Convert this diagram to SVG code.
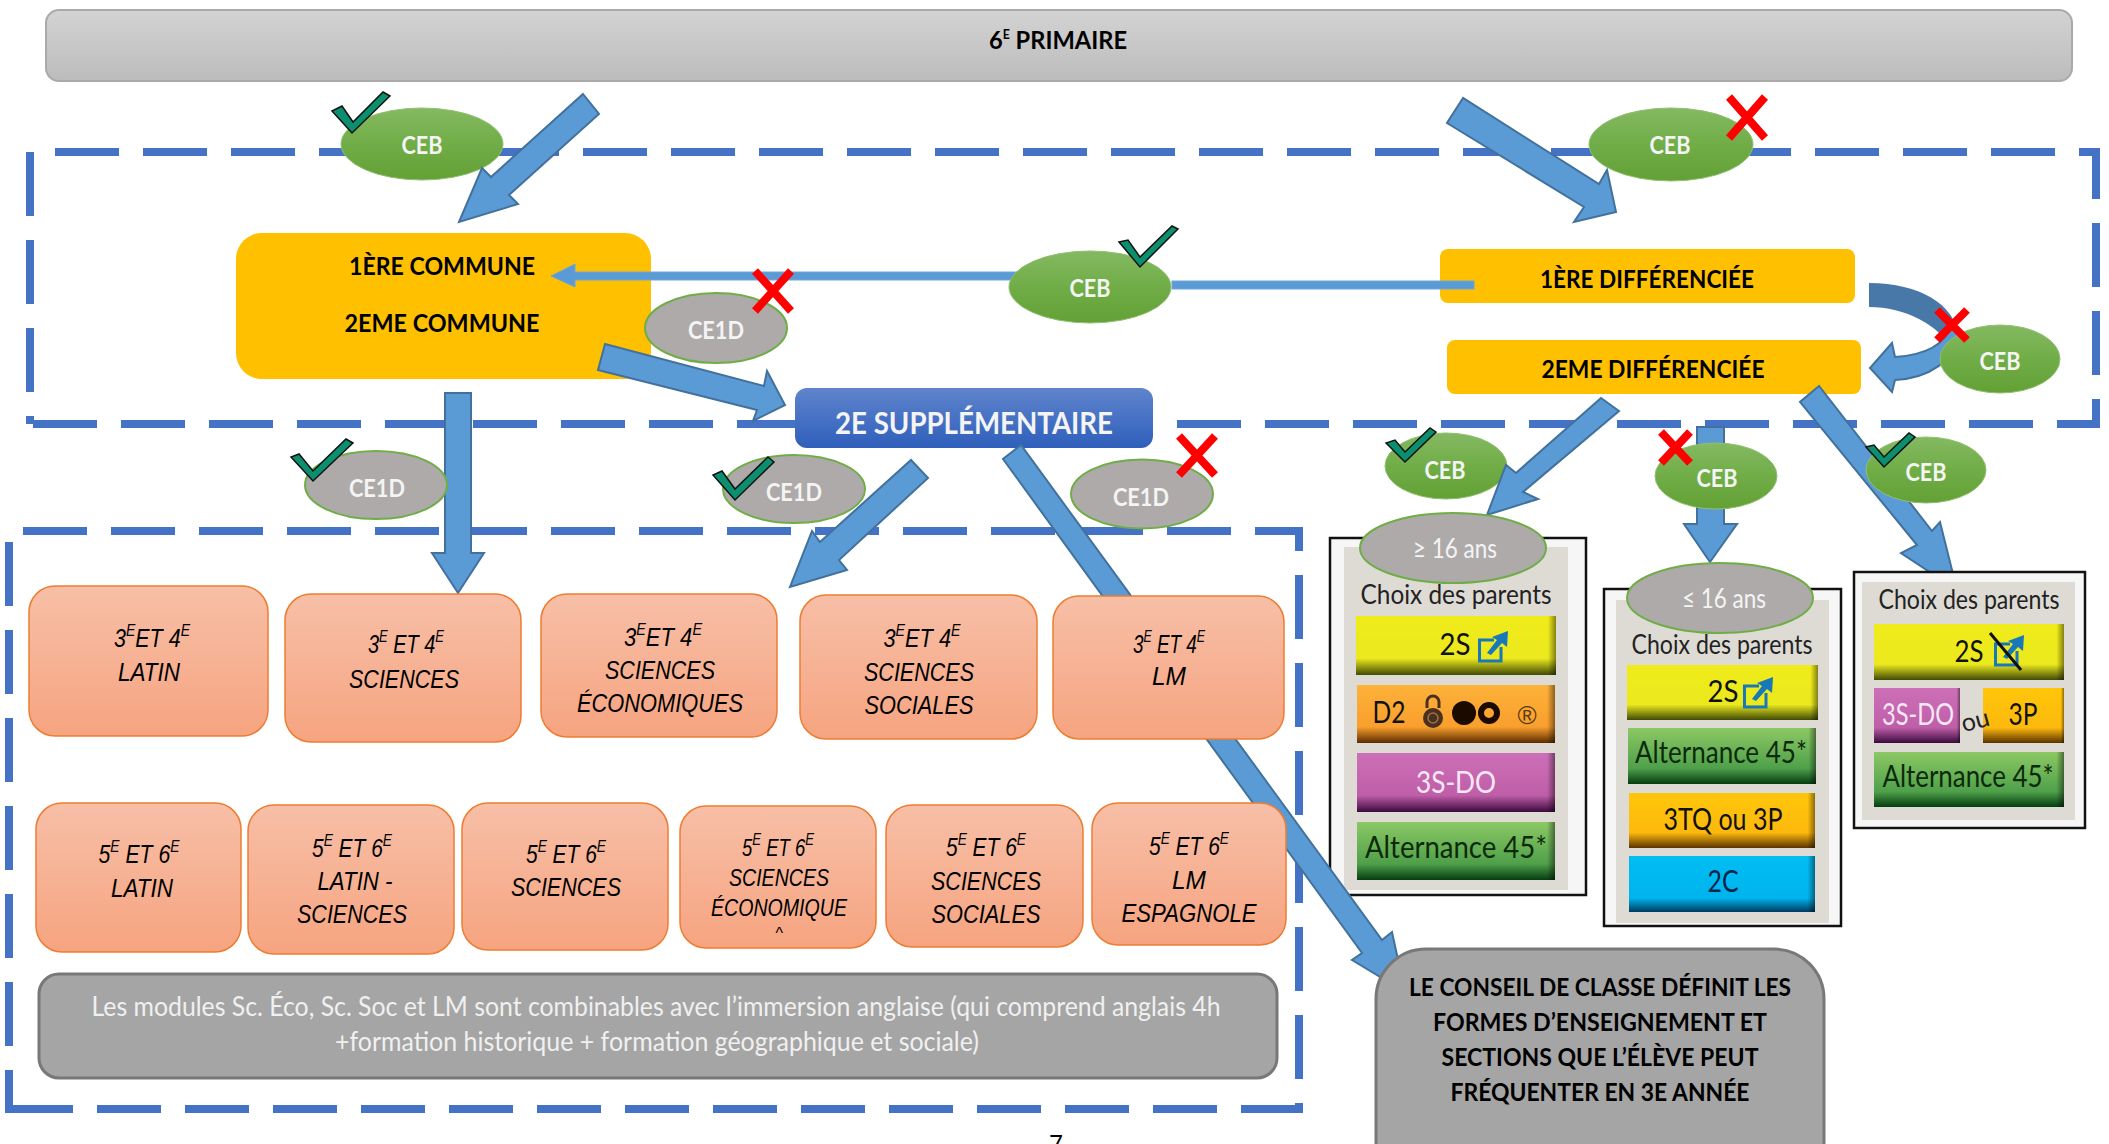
<svg xmlns="http://www.w3.org/2000/svg" width="2109" height="1144" viewBox="0 0 2109 1144">
<style>
text{font-family:Lato,"Liberation Sans",sans-serif;text-anchor:middle}
.b{font-weight:700;fill:#000}
.w{font-weight:700;fill:#f4f4f4;font-size:24px}
.cap{font-size:25px}
.i{font-family:"Liberation Sans",Arial,sans-serif;font-style:italic;font-size:26px;fill:#000}
.s{font-size:17px}
.hs{font-size:13px}
.dash{fill:none;stroke:#4472C4;stroke-width:8;stroke-dasharray:64 24}
.arrow{fill:#5B9BD5;stroke:#41719C;stroke-width:2}
.line{fill:#5B9BD5;stroke:#6ea6da;stroke-width:1}
.eg{fill:url(#green);stroke:#8fc06f;stroke-width:1}
.ea{fill:#AEAAAA;stroke:#70AD47;stroke-width:2}
.ck{fill:#0b8f6f;stroke:#111;stroke-width:1.5}
.x{fill:none;stroke:#f00;stroke-width:8}
.y{fill:#FFC000}
.o{fill:url(#peach);stroke:#ED7D31;stroke-width:1.5}
.n{fill:#A5A5A5;stroke:#787878;stroke-width:3}
.pf{fill:#f6f6f6;stroke:#111;stroke-width:2.5}
.pi{fill:#DEDBD5}
.ch{font-size:27px;fill:#222}
.t{font-size:30px;fill:#111}
.ge{fill:url(#edge)}
</style>
<defs>
<linearGradient id="grey" x1="0" y1="0" x2="0" y2="1"><stop offset="0" stop-color="#d3d3d3"/><stop offset="1" stop-color="#bcbcbc"/></linearGradient>
<linearGradient id="green" x1="0" y1="0" x2="0" y2="1"><stop offset="0" stop-color="#85b962"/><stop offset=".5" stop-color="#70AD47"/><stop offset="1" stop-color="#63a035"/></linearGradient>
<linearGradient id="peach" x1="0" y1="0" x2="0" y2="1"><stop offset="0" stop-color="#f7bfa7"/><stop offset="1" stop-color="#f6a480"/></linearGradient>
<linearGradient id="blue" x1="0" y1="0" x2="0" y2="1"><stop offset="0" stop-color="#5f84cd"/><stop offset="1" stop-color="#2f5fbb"/></linearGradient>
<linearGradient id="gy" x1="0" y1="0" x2="0" y2="1"><stop offset="0" stop-color="#f0ec1a"/><stop offset=".72" stop-color="#ebe81e"/><stop offset="1" stop-color="#3f4a05"/></linearGradient>
<linearGradient id="go" x1="0" y1="0" x2="0" y2="1"><stop offset="0" stop-color="#fdb23a"/><stop offset=".72" stop-color="#f99f2d"/><stop offset="1" stop-color="#5c2c00"/></linearGradient>
<linearGradient id="gm" x1="0" y1="0" x2="0" y2="1"><stop offset="0" stop-color="#cd70b8"/><stop offset=".72" stop-color="#bf5ea8"/><stop offset="1" stop-color="#3a0a3e"/></linearGradient>
<linearGradient id="gg" x1="0" y1="0" x2="0" y2="1"><stop offset="0" stop-color="#8cc864"/><stop offset=".72" stop-color="#4fa04a"/><stop offset="1" stop-color="#053d10"/></linearGradient>
<linearGradient id="gd" x1="0" y1="0" x2="0" y2="1"><stop offset="0" stop-color="#ffc60a"/><stop offset=".72" stop-color="#fdb90d"/><stop offset="1" stop-color="#5a3300"/></linearGradient>
<linearGradient id="gc" x1="0" y1="0" x2="0" y2="1"><stop offset="0" stop-color="#00bdf2"/><stop offset=".75" stop-color="#00b4ee"/><stop offset="1" stop-color="#003a60"/></linearGradient>
<linearGradient id="edge" x1="0" y1="0" x2="1" y2="0"><stop offset=".96" stop-color="#000" stop-opacity="0"/><stop offset="1" stop-color="#000" stop-opacity=".45"/></linearGradient>
<g id="ext"><path d="M16 9H1.5V30H23V16" fill="none" stroke="#1878b8" stroke-width="3"/><path d="M9 22L19 9L14 6L30 0L29 16L24 12L13 24Z" fill="#1878b8"/></g>
</defs>
<rect width="2109" height="1144" fill="#fff"/>

<g id="dashed-frames">
<path class="dash" d="M55 152H2096V424H30"/>
<path class="dash" d="M30 424V148" stroke-dashoffset="56"/>
<path class="dash" d="M23 531H1299V1109H9"/>
<path class="dash" d="M9 1113V541" stroke-dashoffset="21"/>
</g>

<g id="n-6e-primaire">
<rect x="46" y="10" width="2026" height="71" rx="13" fill="url(#grey)" stroke="#aaa" stroke-width="2"/>
<text class="b" x="1058" y="49" font-size="25" lengthAdjust="spacingAndGlyphs" textLength="138">6<tspan class="hs" dy="-10">E</tspan><tspan dy="10"> PRIMAIRE</tspan></text>
</g>
<g id="n-commune">
<rect class="y" x="236" y="233" width="415" height="146" rx="26"/>
<text class="b cap" x="442" y="275" lengthAdjust="spacingAndGlyphs" textLength="186">1ÈRE COMMUNE</text>
<text class="b cap" x="442" y="332" lengthAdjust="spacingAndGlyphs" textLength="195">2EME COMMUNE</text>
</g>
<g id="n-1ere-diff">
<rect class="y" x="1440" y="249" width="415" height="54" rx="8"/>
<text class="b cap" x="1647" y="288" lengthAdjust="spacingAndGlyphs" textLength="214">1ÈRE DIFFÉRENCIÉE</text>
</g>
<g id="n-2eme-diff">
<rect class="y" x="1447" y="340" width="414" height="54" rx="8"/>
<text class="b cap" x="1653" y="378" lengthAdjust="spacingAndGlyphs" textLength="223">2EME DIFFÉRENCIÉE</text>
</g>
<g id="n-2e-supp">
<rect x="795" y="388" width="358" height="60" rx="12" fill="url(#blue)"/>
<text x="974" y="434" font-size="31" font-weight="700" fill="#f4f4f4" lengthAdjust="spacingAndGlyphs" textLength="278">2E SUPPLÉMENTAIRE</text>
</g>

<g id="n-panel-16plus">
<rect class="pf" x="1330" y="538" width="256" height="357"/>
<rect class="pi" x="1344" y="547" width="224" height="343"/>
<text class="ch" x="1456" y="604" lengthAdjust="spacingAndGlyphs" textLength="191">Choix des parents</text>
<rect x="1356" y="616" width="200" height="59" fill="url(#gy)"/><rect class="ge" x="1356" y="616" width="200" height="59"/>
<text class="t" x="1455" y="655" lengthAdjust="spacingAndGlyphs" textLength="31">2S</text><use href="#ext" x="1478" y="631"/>
<rect x="1357" y="685" width="198" height="58" fill="url(#go)"/><rect class="ge" x="1357" y="685" width="198" height="58"/>
<text class="t" x="1389" y="723" lengthAdjust="spacingAndGlyphs" textLength="33">D2</text>
<path d="M1427 708v-6a6 6 0 0 1 12 0v6" fill="none" stroke="#4a3020" stroke-width="3"/><circle cx="1433" cy="718" r="10" fill="#4a3020"/><circle cx="1433" cy="718" r="5" fill="none" stroke="#a07040" stroke-width="1.5"/>
<circle cx="1464" cy="713" r="12" fill="#1a0a00"/><circle cx="1489" cy="713" r="8" fill="none" stroke="#1a0a00" stroke-width="6"/>
<text x="1527" y="724" font-size="26" fill="#5a3a10" style="font-family:'Liberation Sans',sans-serif">®</text>
<rect x="1357" y="753" width="198" height="59" fill="url(#gm)"/><rect class="ge" x="1357" y="753" width="198" height="59"/>
<text class="t" x="1456" y="793" lengthAdjust="spacingAndGlyphs" textLength="80" style="fill:#f8e8f6">3S-DO</text>
<rect x="1357" y="822" width="198" height="58" fill="url(#gg)"/><rect class="ge" x="1357" y="822" width="198" height="58"/>
<text class="t" x="1456" y="858" lengthAdjust="spacingAndGlyphs" textLength="182" style="fill:#0c2a0c">Alternance 45*</text>
</g>
<g id="n-panel-16minus">
<rect class="pf" x="1604" y="589" width="237" height="337"/>
<rect class="pi" x="1616" y="600" width="213" height="323"/>
<text class="ch" x="1722" y="654" lengthAdjust="spacingAndGlyphs" textLength="181">Choix des parents</text>
<rect x="1627" y="665" width="191" height="55" fill="url(#gy)"/><rect class="ge" x="1627" y="665" width="191" height="55"/>
<text class="t" x="1723" y="702" lengthAdjust="spacingAndGlyphs" textLength="31">2S</text><use href="#ext" x="1743" y="677"/>
<rect x="1628" y="728" width="188" height="56" fill="url(#gg)"/><rect class="ge" x="1628" y="728" width="188" height="56"/>
<text class="t" x="1721" y="763" lengthAdjust="spacingAndGlyphs" textLength="172" style="fill:#0c2a0c">Alternance 45*</text>
<rect x="1629" y="793" width="186" height="55" fill="url(#gd)"/><rect class="ge" x="1629" y="793" width="186" height="55"/>
<text class="t" x="1723" y="830" lengthAdjust="spacingAndGlyphs" textLength="119">3TQ ou 3P</text>
<rect x="1629" y="856" width="186" height="56" fill="url(#gc)"/><rect class="ge" x="1629" y="856" width="186" height="56"/>
<text class="t" x="1723" y="892" lengthAdjust="spacingAndGlyphs" textLength="31" style="fill:#05264a">2C</text>
</g>

<g id="n-ceb-1">
<ellipse class="eg" cx="422" cy="144" rx="81" ry="36"/>
<text class="w" x="422" y="154" lengthAdjust="spacingAndGlyphs" textLength="41">CEB</text>
<polygon class="ck" points="332,111 352,133 390,96 383,92 353,122 342,106"/>
</g>
<g id="n-ceb-2">
<ellipse class="eg" cx="1671" cy="144.5" rx="82" ry="36.5"/>
<text class="w" x="1670" y="154" lengthAdjust="spacingAndGlyphs" textLength="41">CEB</text>
<path class="x" d="M1729 97L1765 138M1765 97L1729 138"/>
</g>
<g id="n-ceb-low-1">
<ellipse class="eg" cx="1446" cy="466" rx="61" ry="33"/>
<text class="w" x="1445" y="479" lengthAdjust="spacingAndGlyphs" textLength="41">CEB</text>
<polygon class="ck" points="1386,443 1405,462 1436,432 1430,428 1405,452 1395,440"/>
</g>
<g id="n-ce1d-mid">
<ellipse class="ea" cx="794" cy="489" rx="71" ry="34"/>
<text class="w" x="794" y="501" lengthAdjust="spacingAndGlyphs" textLength="56">CE1D</text>
<polygon class="ck" points="713,475 735,500 774,462 768,457 735,489 722,471"/>
</g>

<g id="connectors">
<polygon class="arrow" points="583,94 599,114 509,195 518,204 459,222 482,168 491,177"/>
<polygon class="arrow" points="1463,98 1447,123 1584,207 1574,222 1616,212 1607,170 1599,184"/>
<polygon class="line" points="1018,272 575,272 575,264 551,276 575,287 575,280 1018,280"/>
<rect class="line" x="1172" y="281" width="302" height="8"/>
<polygon class="arrow" points="605,344 598,370 757,410 753,421 785,405 767,371 764,386"/>
<polygon class="arrow" points="445,393 471,393 471,553 484,553 458,593 432,553 445,553"/>
<polygon class="arrow" points="911,460 928,478 839,560 847,570 790,587 812,531 820,542"/>
<polygon class="arrow" points="1021,445 1003,459 1362,953 1352,960 1405,992 1392,932 1382,940"/>
<path d="M1869 283C1920 283 1955 305 1958 335L1952 350C1940 325 1905 307 1869 307Z" fill="#4878A8"/>
<path class="arrow" d="M1958 335C1955 360 1930 378 1895 380L1892 392L1870 368L1892 343L1895 357C1925 355 1945 345 1952 325Z"/>
<polygon class="arrow" points="1601,398 1619,411 1523,492 1538,499 1487,515 1506,465 1516,473"/>
<polygon class="arrow" points="1697,427 1724,427 1724,524 1737,524 1710,562 1684,524 1697,524"/>
<polygon class="arrow" points="1819,386 1800,402 1917,545 1901,553 1957,590 1940,522 1932,531"/>
</g>

<g id="n-panel-parents">
<rect class="pf" x="1854" y="572" width="231" height="256"/>
<rect class="pi" x="1862" y="582" width="213" height="238"/>
<text class="ch" x="1969" y="609" lengthAdjust="spacingAndGlyphs" textLength="181">Choix des parents</text>
<rect x="1874" y="624" width="190" height="56" fill="url(#gy)"/><rect class="ge" x="1874" y="624" width="190" height="56"/>
<text class="t" x="1969" y="662" lengthAdjust="spacingAndGlyphs" textLength="29">2S</text><use href="#ext" x="1994" y="635"/>
<line x1="1990" y1="633" x2="2021" y2="670" stroke="#111" stroke-width="3"/>
<rect x="1874" y="688" width="86" height="55" fill="url(#gm)"/><rect class="ge" x="1874" y="688" width="86" height="55"/>
<text class="t" x="1918" y="725" lengthAdjust="spacingAndGlyphs" textLength="72" style="fill:#f8e8f6">3S-DO</text>
<rect x="1983" y="688" width="81" height="55" fill="url(#gd)"/><rect class="ge" x="1983" y="688" width="81" height="55"/>
<text x="1975" y="729" font-size="25" fill="#222" transform="rotate(-15 1975 720)">ou</text>
<text class="t" x="2023" y="725" lengthAdjust="spacingAndGlyphs" textLength="29">3P</text>
<rect x="1874" y="752" width="190" height="55" fill="url(#gg)"/><rect class="ge" x="1874" y="752" width="190" height="55"/>
<text class="t" x="1968" y="787" lengthAdjust="spacingAndGlyphs" textLength="171" style="fill:#0c2a0c">Alternance 45*</text>
</g>

<g id="n-ceb-mid">
<ellipse class="eg" cx="1090" cy="287" rx="81" ry="36"/>
<text class="w" x="1090" y="297" lengthAdjust="spacingAndGlyphs" textLength="41">CEB</text>
<polygon class="ck" points="1119,242 1140,267 1178,229 1172,226 1140,257 1128,240"/>
</g>
<g id="n-ce1d-commune">
<ellipse class="ea" cx="716" cy="328" rx="71" ry="35"/>
<text class="w" x="716" y="339" lengthAdjust="spacingAndGlyphs" textLength="56">CE1D</text>
<path class="x" d="M755 271L791 311M791 271L755 311"/>
</g>
<g id="n-ceb-right">
<ellipse class="eg" cx="2000" cy="359" rx="60" ry="34"/>
<text class="w" x="2000" y="370" lengthAdjust="spacingAndGlyphs" textLength="41">CEB</text>
<path class="x" d="M1937 310L1967 340M1967 310L1937 340"/>
</g>
<g id="n-ce1d-left">
<ellipse class="ea" cx="376" cy="485" rx="71" ry="34"/>
<text class="w" x="377" y="497" lengthAdjust="spacingAndGlyphs" textLength="56">CE1D</text>
<polygon class="ck" points="291,457 313,481 353,443 346,439 313,471 299,454"/>
</g>
<g id="n-ce1d-right">
<ellipse class="ea" cx="1142" cy="494" rx="71" ry="34.5"/>
<text class="w" x="1141" y="506" lengthAdjust="spacingAndGlyphs" textLength="56">CE1D</text>
<path class="x" d="M1179 436L1215 475M1215 436L1179 475"/>
</g>
<g id="n-ceb-low-2">
<ellipse class="eg" cx="1716" cy="476" rx="61" ry="33"/>
<text class="w" x="1717" y="487" lengthAdjust="spacingAndGlyphs" textLength="41">CEB</text>
<path class="x" d="M1661 432L1690 463M1690 432L1661 463"/>
</g>
<g id="n-ceb-low-3">
<ellipse class="eg" cx="1926" cy="470" rx="60" ry="33"/>
<text class="w" x="1926" y="481" lengthAdjust="spacingAndGlyphs" textLength="41">CEB</text>
<polygon class="ck" points="1866,447 1884,467 1915,437 1909,433 1884,457 1874,445"/>
</g>
<g id="n-16plus">
<ellipse class="ea" cx="1453" cy="548" rx="93" ry="35"/>
<text x="1455" y="558" font-size="26" fill="#f4f4f4" lengthAdjust="spacingAndGlyphs" textLength="84">≥ 16 ans</text>
</g>
<g id="n-16minus">
<ellipse class="ea" cx="1720" cy="598" rx="93" ry="35"/>
<text x="1724" y="608" font-size="26" fill="#f4f4f4" lengthAdjust="spacingAndGlyphs" textLength="84">≤ 16 ans</text>
</g>

<g id="n-34-latin"><rect class="o" x="29" y="586" width="239" height="150" rx="26"/>
<text class="i" x="152" y="647" lengthAdjust="spacingAndGlyphs" textLength="76">3<tspan class="s" dy="-11">E</tspan><tspan dy="11">ET 4</tspan><tspan class="s" dy="-11">E</tspan></text>
<text class="i" x="149" y="681" lengthAdjust="spacingAndGlyphs" textLength="62">LATIN</text></g>
<g id="n-34-sciences"><rect class="o" x="285" y="594" width="236" height="148" rx="26"/>
<text class="i" x="406" y="653" lengthAdjust="spacingAndGlyphs" textLength="76">3<tspan class="s" dy="-11">E</tspan><tspan dy="11"> ET 4</tspan><tspan class="s" dy="-11">E</tspan></text>
<text class="i" x="404" y="688" lengthAdjust="spacingAndGlyphs" textLength="110">SCIENCES</text></g>
<g id="n-34-eco"><rect class="o" x="541" y="594" width="236" height="143" rx="26"/>
<text class="i" x="663" y="646" lengthAdjust="spacingAndGlyphs" textLength="78">3<tspan class="s" dy="-11">E</tspan><tspan dy="11">ET 4</tspan><tspan class="s" dy="-11">E</tspan></text>
<text class="i" x="660" y="679" lengthAdjust="spacingAndGlyphs" textLength="110">SCIENCES</text>
<text class="i" x="660" y="712" lengthAdjust="spacingAndGlyphs" textLength="166">ÉCONOMIQUES</text></g>
<g id="n-34-soc"><rect class="o" x="800" y="595" width="237" height="144" rx="26"/>
<text class="i" x="922" y="647" lengthAdjust="spacingAndGlyphs" textLength="77">3<tspan class="s" dy="-11">E</tspan><tspan dy="11">ET 4</tspan><tspan class="s" dy="-11">E</tspan></text>
<text class="i" x="919" y="681" lengthAdjust="spacingAndGlyphs" textLength="110">SCIENCES</text>
<text class="i" x="919" y="714" lengthAdjust="spacingAndGlyphs" textLength="109">SOCIALES</text></g>
<g id="n-34-lm"><rect class="o" x="1053" y="596" width="231" height="143" rx="26"/>
<text class="i" x="1169" y="653" lengthAdjust="spacingAndGlyphs" textLength="72">3<tspan class="s" dy="-11">E</tspan><tspan dy="11"> ET 4</tspan><tspan class="s" dy="-11">E</tspan></text>
<text class="i" x="1169" y="685" lengthAdjust="spacingAndGlyphs" textLength="34">LM</text></g>

<g id="n-56-latin"><rect class="o" x="36" y="803" width="205" height="149" rx="26"/>
<text class="i" x="139" y="863" lengthAdjust="spacingAndGlyphs" textLength="81">5<tspan class="s" dy="-11">E</tspan><tspan dy="11"> ET 6</tspan><tspan class="s" dy="-11">E</tspan></text>
<text class="i" x="142" y="897" lengthAdjust="spacingAndGlyphs" textLength="62">LATIN</text></g>
<g id="n-56-latin-sc"><rect class="o" x="248" y="805" width="206" height="149" rx="26"/>
<text class="i" x="352" y="857" lengthAdjust="spacingAndGlyphs" textLength="80">5<tspan class="s" dy="-11">E</tspan><tspan dy="11"> ET 6</tspan><tspan class="s" dy="-11">E</tspan></text>
<text class="i" x="355" y="890" lengthAdjust="spacingAndGlyphs" textLength="75">LATIN -</text>
<text class="i" x="352" y="923" lengthAdjust="spacingAndGlyphs" textLength="110">SCIENCES</text></g>
<g id="n-56-sciences"><rect class="o" x="462" y="803" width="206" height="147" rx="26"/>
<text class="i" x="566" y="863" lengthAdjust="spacingAndGlyphs" textLength="80">5<tspan class="s" dy="-11">E</tspan><tspan dy="11"> ET 6</tspan><tspan class="s" dy="-11">E</tspan></text>
<text class="i" x="566" y="896" lengthAdjust="spacingAndGlyphs" textLength="110">SCIENCES</text></g>
<g id="n-56-eco"><rect class="o" x="680" y="806" width="196" height="142" rx="26"/>
<text class="i" x="778" y="856" lengthAdjust="spacingAndGlyphs" textLength="72" style="font-size:24px">5<tspan class="s" dy="-11">E</tspan><tspan dy="11"> ET 6</tspan><tspan class="s" dy="-11">E</tspan></text>
<text class="i" x="779" y="886" lengthAdjust="spacingAndGlyphs" textLength="100" style="font-size:24px">SCIENCES</text>
<text class="i" x="779" y="916" lengthAdjust="spacingAndGlyphs" textLength="136" style="font-size:24px">ÉCONOMIQUE</text>
<text class="i" x="779" y="939" style="font-size:16px">^</text></g>
<g id="n-56-soc"><rect class="o" x="886" y="805" width="197" height="142" rx="26"/>
<text class="i" x="986" y="856" lengthAdjust="spacingAndGlyphs" textLength="80">5<tspan class="s" dy="-11">E</tspan><tspan dy="11"> ET 6</tspan><tspan class="s" dy="-11">E</tspan></text>
<text class="i" x="986" y="890" lengthAdjust="spacingAndGlyphs" textLength="110">SCIENCES</text>
<text class="i" x="986" y="923" lengthAdjust="spacingAndGlyphs" textLength="109">SOCIALES</text></g>
<g id="n-56-lm"><rect class="o" x="1092" y="803" width="194" height="142" rx="26"/>
<text class="i" x="1189" y="855" lengthAdjust="spacingAndGlyphs" textLength="80">5<tspan class="s" dy="-11">E</tspan><tspan dy="11"> ET 6</tspan><tspan class="s" dy="-11">E</tspan></text>
<text class="i" x="1189" y="889" lengthAdjust="spacingAndGlyphs" textLength="34">LM</text>
<text class="i" x="1189" y="922" lengthAdjust="spacingAndGlyphs" textLength="135">ESPAGNOLE</text></g>

<g id="n-note">
<rect class="n" x="39" y="974" width="1238" height="104" rx="20"/>
<text x="656" y="1016" font-size="26" fill="#f0f0f0" lengthAdjust="spacingAndGlyphs" textLength="1129">Les modules Sc. Éco, Sc. Soc et LM sont combinables avec l’immersion anglaise (qui comprend anglais 4h</text>
<text x="657" y="1051" font-size="26" fill="#f0f0f0" lengthAdjust="spacingAndGlyphs" textLength="644">+formation historique + formation géographique et sociale)</text>
</g>
<g id="n-conseil">
<rect class="n" x="1376" y="949" width="448" height="260" rx="50"/>
<text class="b" x="1600" y="996" font-size="25" lengthAdjust="spacingAndGlyphs" textLength="382">LE CONSEIL DE CLASSE DÉFINIT LES</text>
<text class="b" x="1600" y="1031" font-size="25" lengthAdjust="spacingAndGlyphs" textLength="334">FORMES D’ENSEIGNEMENT ET</text>
<text class="b" x="1600" y="1066" font-size="25" lengthAdjust="spacingAndGlyphs" textLength="317">SECTIONS QUE L’ÉLÈVE PEUT</text>
<text class="b" x="1600" y="1101" font-size="25" lengthAdjust="spacingAndGlyphs" textLength="299">FRÉQUENTER EN 3E ANNÉE</text>
</g>
<text x="1056" y="1152" font-size="24" fill="#000">7</text>
</svg>
